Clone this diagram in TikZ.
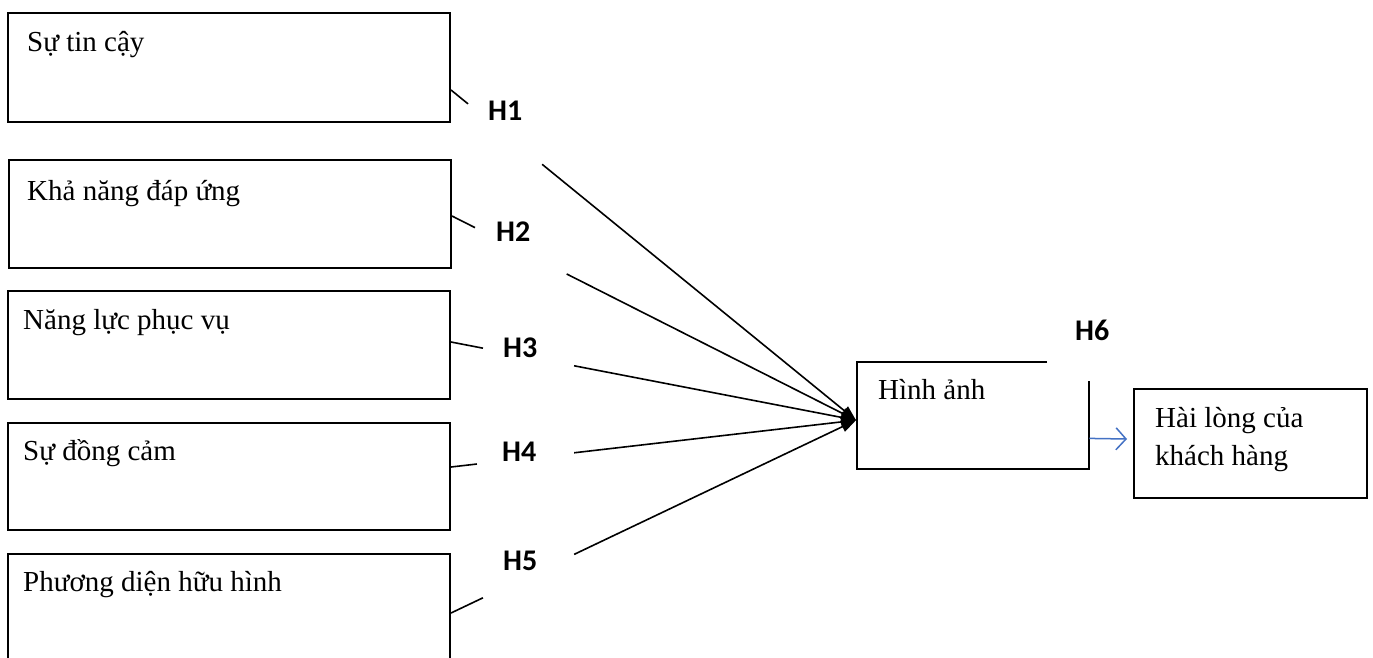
\documentclass[tikz,border=0pt]{standalone}
\usepackage{fontspec}
\setmainfont{Liberation Serif}
\newfontfamily\lblfont{Carlito}
\usetikzlibrary{arrows.meta,calc}
\definecolor{arrowblue}{RGB}{68,114,196}
\begin{document}
\begin{tikzpicture}[x=1pt,y=-1pt,
  box/.style={draw,line width=2pt,rectangle,inner sep=0pt,anchor=north west},
  plainbox/.style={rectangle,inner sep=0pt,anchor=north west},
  txt/.style={anchor=base west,inner sep=0pt,font=\fontsize{29}{34}\selectfont},
  hlab/.style={anchor=base west,inner sep=0pt,font=\lblfont\bfseries\fontsize{30}{34}\selectfont},
  link/.style={line width=1.6pt},
  arr/.style={line width=1.6pt,-{Triangle[length=15pt,width=11pt]}},
  bluearr/.style={line width=1.5pt,draw=arrowblue,-{Straight Barb[length=10pt,width=22pt,line width=1.5pt]}}]
\useasboundingbox (0,0) rectangle (1373,657);

% source boxes
\node[box,minimum width=442pt,minimum height=109pt] (b1) at (7,12) {};
\node[box,minimum width=442pt,minimum height=108pt] (b2) at (8,159) {};
\node[box,minimum width=442pt,minimum height=108pt] (b3) at (7,290) {};
\node[box,minimum width=442pt,minimum height=107pt] (b4) at (7,422) {};
\node[box,minimum width=442pt,minimum height=110pt] (b5) at (7,553) {};

\node[txt] (t1) at (27,51) {Sự tin cậy};
\node[txt] (t2) at (27,200) {Khả năng đáp ứng};
\node[txt] (t3) at (23,329) {Năng lực phục vụ};
\node[txt] (t4) at (23,460) {Sự đồng cảm};
\node[txt] (t5) at (23,591) {Phương diện hữu hình};

% target box (open at top right)
\node[plainbox,minimum width=232pt,minimum height=107pt] (img) at (857,362) {};
\draw[line width=2pt] ($(img.north west)+(190,0)$) -- (img.north west) -- (img.south west) -- (img.south east) -- ($(img.south east)+(0,-88)$);
\node[txt] (timg) at (878,399) {Hình ảnh};

% outcome box
\node[box,minimum width=233pt,minimum height=109pt] (hl) at (1133,388) {};
\node[txt] (thl1) at (1155,427) {Hài lòng của};
\node[txt] (thl2) at (1155,465) {khách hàng};

% start points and tip
\coordinate (s1) at ($(b1.east)+(0,22.5)$);
\coordinate (s2) at ($(b2.east)+(0,2)$);
\coordinate (s3) at ($(b3.east)+(0,-3)$);
\coordinate (s4) at ($(b4.east)+(0,-9.5)$);
\coordinate (s5) at ($(b5.east)+(0,4)$);
\coordinate (tip) at ($(img.west)+(-1,4.5)$);

% connectors with gaps where labels sit
\draw[link] (s1) -- ($(s1)!0.042!(tip)$);
\draw[arr] ($(s1)!0.225!(tip)$) -- (tip);
\draw[link] (s2) -- ($(s2)!0.057!(tip)$);
\draw[arr] ($(s2)!0.284!(tip)$) -- (tip);
\draw[link] (s3) -- ($(s3)!0.079!(tip)$);
\draw[arr] ($(s3)!0.304!(tip)$) -- (tip);
\draw[link] (s4) -- ($(s4)!0.064!(tip)$);
\draw[arr] ($(s4)!0.304!(tip)$) -- (tip);
\draw[link] (s5) -- ($(s5)!0.079!(tip)$);
\draw[arr] ($(s5)!0.304!(tip)$) -- (tip);

\node[hlab] (h1) at (488,120) {H1};
\node[hlab] (h2) at (496,241) {H2};
\node[hlab] (h3) at (503,357) {H3};
\node[hlab] (h4) at (502,461) {H4};
\node[hlab] (h5) at (503,570) {H5};
\node[hlab] (h6) at (1075,340) {H6};

% blue arrow
\coordinate (bs) at ($(img.south east)+(0,-31)$);
\draw[bluearr] (bs) -- ($(hl.west)+(-6,-4.5)$);
\end{tikzpicture}
\end{document}
